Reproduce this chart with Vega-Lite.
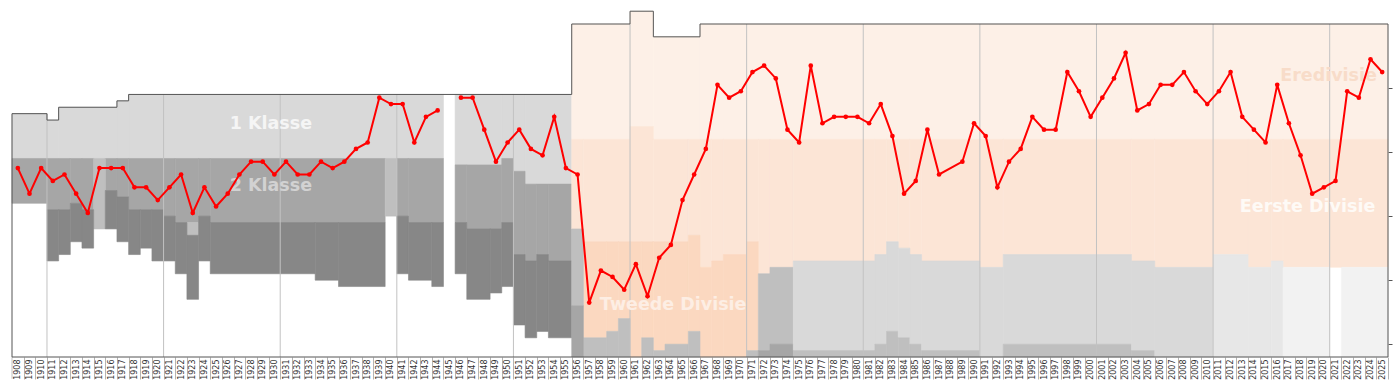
{
"$schema": "https://vega.github.io/schema/vega-lite/v6.json",
"width": 1376, "height": 357,
"autosize": {"type": "none"},
"padding": {"left": 12, "top": 0, "right": 12, "bottom": 30},
"background": "white",
"config": {
"view": {"stroke": null}, "font": "DejaVu Sans",
"axisX": {"labelAngle": 270, "labelFontSize": 8, "labelFont": "DejaVu Sans", "labelColor": "#333333",
"tickSize": 22, "tickColor": "#b4b4b4", "tickOffset": 5.83, "labelOffset": -5.83, "labelPadding": -20,
"domain": false, "grid": false, "labelOverlap": false, "labelFlush": false, "labelBound": false, "labelAlign": "right", "labelBaseline": "middle"},
"axisY": {"labels": false, "ticks": true, "tickSize": 4, "tickColor": "#555555", "domain": false, "grid": false}
},
"resolve": {"scale": {"color": "independent", "stroke": "independent"}},
"encoding": {
"x": {"field": "x0", "type": "quantitative",
"scale": {"domain": [1907.5, 2025.5], "nice": false, "zero": false},
"axis": {"values": [1908,1909,1910,1911,1912,1913,1914,1915,1916,1917,1918,1919,1920,1921,1922,1923,1924,1925,1926,1927,1928,1929,1930,1931,1932,1933,1934,1935,1936,1937,1938,1939,1940,1941,1942,1943,1944,1945,1946,1947,1948,1949,1950,1951,1952,1953,1954,1955,1956,1957,1958,1959,1960,1961,1962,1963,1964,1965,1966,1967,1968,1969,1970,1971,1972,1973,1974,1975,1976,1977,1978,1979,1980,1981,1982,1983,1984,1985,1986,1987,1988,1989,1990,1991,1992,1993,1994,1995,1996,1997,1998,1999,2000,2001,2002,2003,2004,2005,2006,2007,2008,2009,2010,2011,2012,2013,2014,2015,2016,2017,2018,2019,2020,2021,2022,2023,2024,2025],
"format": "d", "labelAngle": 270, "labelFontSize": 8, "labelColor": "#333333",
"tickSize": 22, "tickColor": "#b4b4b4", "tickOffset": 5.83, "labelOffset": -5.83, "labelPadding": -20,
"domain": false, "grid": false, "title": null, "labelOverlap": false, "labelFlush": false, "labelBound": false}},
"y": {"field": "y0", "type": "quantitative",
"scale": {"domain": [-3.25, 52.5], "reverse": true, "nice": false, "zero": false},
"axis": {"orient": "right", "values": [10.5, 20.5, 30.5, 40.5, 50.5], "labels": false, "ticks": true, "tickSize": 4, "tickColor": "#555555", "domain": false, "grid": false, "title": null}}
},
"layer": [
{
"data": {"values": [
{"x0":1907.5,"x1":1910.5,"y0":14.5,"y1":21.5,"c":"k1"},
{"x0":1910.5,"x1":1911.5,"y0":15.5,"y1":21.5,"c":"k1"},
{"x0":1911.5,"x1":1916.5,"y0":13.5,"y1":21.5,"c":"k1"},
{"x0":1916.5,"x1":1917.5,"y0":12.5,"y1":21.5,"c":"k1"},
{"x0":1917.5,"x1":1944.5,"y0":11.5,"y1":21.5,"c":"k1"},
{"x0":1945.5,"x1":1949.5,"y0":11.5,"y1":22.5,"c":"k1"},
{"x0":1949.5,"x1":1950.5,"y0":11.5,"y1":21.5,"c":"k1"},
{"x0":1950.5,"x1":1951.5,"y0":11.5,"y1":23.5,"c":"k1"},
{"x0":1951.5,"x1":1955.5,"y0":11.5,"y1":25.5,"c":"k1"},
{"x0":1907.5,"x1":1910.5,"y0":21.5,"y1":28.5,"c":"k2"},
{"x0":1910.5,"x1":1912.5,"y0":21.5,"y1":29.5,"c":"k2"},
{"x0":1912.5,"x1":1913.5,"y0":21.5,"y1":28.5,"c":"k2"},
{"x0":1913.5,"x1":1914.5,"y0":21.5,"y1":29.5,"c":"k2"},
{"x0":1915.5,"x1":1916.5,"y0":21.5,"y1":26.5,"c":"k2"},
{"x0":1916.5,"x1":1917.5,"y0":21.5,"y1":27.5,"c":"k2"},
{"x0":1917.5,"x1":1920.5,"y0":21.5,"y1":29.5,"c":"k2"},
{"x0":1920.5,"x1":1921.5,"y0":21.5,"y1":30.5,"c":"k2"},
{"x0":1921.5,"x1":1923.5,"y0":21.5,"y1":31.5,"c":"k2"},
{"x0":1923.5,"x1":1924.5,"y0":21.5,"y1":30.5,"c":"k2"},
{"x0":1924.5,"x1":1939.5,"y0":21.5,"y1":31.5,"c":"k2"},
{"x0":1940.5,"x1":1941.5,"y0":21.5,"y1":30.5,"c":"k2"},
{"x0":1941.5,"x1":1944.5,"y0":21.5,"y1":31.5,"c":"k2"},
{"x0":1945.5,"x1":1946.5,"y0":22.5,"y1":31.5,"c":"k2"},
{"x0":1946.5,"x1":1949.5,"y0":22.5,"y1":32.5,"c":"k2"},
{"x0":1949.5,"x1":1950.5,"y0":21.5,"y1":31.5,"c":"k2"},
{"x0":1950.5,"x1":1951.5,"y0":23.5,"y1":36.5,"c":"k2"},
{"x0":1951.5,"x1":1952.5,"y0":25.5,"y1":37.5,"c":"k2"},
{"x0":1952.5,"x1":1953.5,"y0":25.5,"y1":36.5,"c":"k2"},
{"x0":1953.5,"x1":1955.5,"y0":25.5,"y1":37.5,"c":"k2"},
{"x0":1914.5,"x1":1915.5,"y0":21.5,"y1":32.5,"c":"kx"},
{"x0":1922.5,"x1":1923.5,"y0":31.5,"y1":33.5,"c":"kx"},
{"x0":1939.5,"x1":1940.5,"y0":21.5,"y1":30.5,"c":"kx"},
{"x0":1910.5,"x1":1911.5,"y0":29.5,"y1":37.5,"c":"k3"},
{"x0":1911.5,"x1":1912.5,"y0":29.5,"y1":36.5,"c":"k3"},
{"x0":1912.5,"x1":1913.5,"y0":28.5,"y1":34.5,"c":"k3"},
{"x0":1913.5,"x1":1914.5,"y0":29.5,"y1":35.5,"c":"k3"},
{"x0":1915.5,"x1":1916.5,"y0":26.5,"y1":32.5,"c":"k3"},
{"x0":1916.5,"x1":1917.5,"y0":27.5,"y1":34.5,"c":"k3"},
{"x0":1917.5,"x1":1918.5,"y0":29.5,"y1":36.5,"c":"k3"},
{"x0":1918.5,"x1":1919.5,"y0":29.5,"y1":35.5,"c":"k3"},
{"x0":1919.5,"x1":1920.5,"y0":29.5,"y1":37.5,"c":"k3"},
{"x0":1920.5,"x1":1921.5,"y0":30.5,"y1":37.5,"c":"k3"},
{"x0":1921.5,"x1":1922.5,"y0":31.5,"y1":39.5,"c":"k3"},
{"x0":1922.5,"x1":1923.5,"y0":33.5,"y1":43.5,"c":"k3"},
{"x0":1923.5,"x1":1924.5,"y0":30.5,"y1":37.5,"c":"k3"},
{"x0":1924.5,"x1":1933.5,"y0":31.5,"y1":39.5,"c":"k3"},
{"x0":1933.5,"x1":1935.5,"y0":31.5,"y1":40.5,"c":"k3"},
{"x0":1935.5,"x1":1939.5,"y0":31.5,"y1":41.5,"c":"k3"},
{"x0":1940.5,"x1":1941.5,"y0":30.5,"y1":39.5,"c":"k3"},
{"x0":1941.5,"x1":1943.5,"y0":31.5,"y1":40.5,"c":"k3"},
{"x0":1943.5,"x1":1944.5,"y0":31.5,"y1":41.5,"c":"k3"},
{"x0":1945.5,"x1":1946.5,"y0":31.5,"y1":39.5,"c":"k3"},
{"x0":1946.5,"x1":1948.5,"y0":32.5,"y1":43.5,"c":"k3"},
{"x0":1948.5,"x1":1949.5,"y0":32.5,"y1":42.5,"c":"k3"},
{"x0":1949.5,"x1":1950.5,"y0":31.5,"y1":41.5,"c":"k3"},
{"x0":1950.5,"x1":1951.5,"y0":36.5,"y1":47.5,"c":"k3"},
{"x0":1951.5,"x1":1952.5,"y0":37.5,"y1":49.5,"c":"k3"},
{"x0":1952.5,"x1":1953.5,"y0":36.5,"y1":48.5,"c":"k3"},
{"x0":1953.5,"x1":1955.5,"y0":37.5,"y1":49.5,"c":"k3"},
{"x0":1955.5,"x1":1960.5,"y0":0.5,"y1":18.5,"c":"ere"},
{"x0":1960.5,"x1":1962.5,"y0":-1.5,"y1":16.5,"c":"ere"},
{"x0":1962.5,"x1":1966.5,"y0":2.5,"y1":18.5,"c":"ere"},
{"x0":1966.5,"x1":2025.5,"y0":0.5,"y1":18.5,"c":"ere"},
{"x0":1955.5,"x1":1956.5,"y0":18.5,"y1":32.5,"c":"eer"},
{"x0":1956.5,"x1":1960.5,"y0":18.5,"y1":34.5,"c":"eer"},
{"x0":1960.5,"x1":1962.5,"y0":16.5,"y1":34.5,"c":"eer"},
{"x0":1962.5,"x1":1965.5,"y0":18.5,"y1":34.5,"c":"eer"},
{"x0":1965.5,"x1":1966.5,"y0":18.5,"y1":33.5,"c":"eer"},
{"x0":1966.5,"x1":1967.5,"y0":18.5,"y1":38.5,"c":"eer"},
{"x0":1967.5,"x1":1968.5,"y0":18.5,"y1":37.5,"c":"eer"},
{"x0":1968.5,"x1":1970.5,"y0":18.5,"y1":36.5,"c":"eer"},
{"x0":1970.5,"x1":1971.5,"y0":18.5,"y1":34.5,"c":"eer"},
{"x0":1971.5,"x1":1972.5,"y0":18.5,"y1":39.5,"c":"eer"},
{"x0":1972.5,"x1":1974.5,"y0":18.5,"y1":38.5,"c":"eer"},
{"x0":1974.5,"x1":1981.5,"y0":18.5,"y1":37.5,"c":"eer"},
{"x0":1981.5,"x1":1982.5,"y0":18.5,"y1":36.5,"c":"eer"},
{"x0":1982.5,"x1":1983.5,"y0":18.5,"y1":34.5,"c":"eer"},
{"x0":1983.5,"x1":1984.5,"y0":18.5,"y1":35.5,"c":"eer"},
{"x0":1984.5,"x1":1985.5,"y0":18.5,"y1":36.5,"c":"eer"},
{"x0":1985.5,"x1":1990.5,"y0":18.5,"y1":37.5,"c":"eer"},
{"x0":1990.5,"x1":1992.5,"y0":18.5,"y1":38.5,"c":"eer"},
{"x0":1992.5,"x1":2003.5,"y0":18.5,"y1":36.5,"c":"eer"},
{"x0":2003.5,"x1":2005.5,"y0":18.5,"y1":37.5,"c":"eer"},
{"x0":2005.5,"x1":2010.5,"y0":18.5,"y1":38.5,"c":"eer"},
{"x0":2010.5,"x1":2013.5,"y0":18.5,"y1":36.5,"c":"eer"},
{"x0":2013.5,"x1":2015.5,"y0":18.5,"y1":38.5,"c":"eer"},
{"x0":2015.5,"x1":2016.5,"y0":18.5,"y1":37.5,"c":"eer"},
{"x0":2016.5,"x1":2025.5,"y0":18.5,"y1":38.5,"c":"eer"},
{"x0":1956.5,"x1":1958.5,"y0":34.5,"y1":49.5,"c":"twe"},
{"x0":1958.5,"x1":1959.5,"y0":34.5,"y1":48.5,"c":"twe"},
{"x0":1959.5,"x1":1960.5,"y0":34.5,"y1":46.5,"c":"twe"},
{"x0":1960.5,"x1":1961.5,"y0":34.5,"y1":52.5,"c":"twe"},
{"x0":1961.5,"x1":1962.5,"y0":34.5,"y1":49.5,"c":"twe"},
{"x0":1962.5,"x1":1963.5,"y0":34.5,"y1":51.5,"c":"twe"},
{"x0":1963.5,"x1":1965.5,"y0":34.5,"y1":50.5,"c":"twe"},
{"x0":1965.5,"x1":1966.5,"y0":33.5,"y1":48.5,"c":"twe"},
{"x0":1966.5,"x1":1967.5,"y0":38.5,"y1":52.5,"c":"twe"},
{"x0":1967.5,"x1":1968.5,"y0":37.5,"y1":52.5,"c":"twe"},
{"x0":1968.5,"x1":1970.5,"y0":36.5,"y1":52.5,"c":"twe"},
{"x0":1970.5,"x1":1971.5,"y0":34.5,"y1":51.5,"c":"twe"},
{"x0":1956.5,"x1":1958.5,"y0":49.5,"y1":52.5,"c":"kx"},
{"x0":1958.5,"x1":1959.5,"y0":48.5,"y1":52.5,"c":"kx"},
{"x0":1959.5,"x1":1960.5,"y0":46.5,"y1":52.5,"c":"kx"},
{"x0":1961.5,"x1":1962.5,"y0":49.5,"y1":52.5,"c":"kx"},
{"x0":1962.5,"x1":1963.5,"y0":51.5,"y1":52.5,"c":"kx"},
{"x0":1963.5,"x1":1965.5,"y0":50.5,"y1":52.5,"c":"kx"},
{"x0":1965.5,"x1":1966.5,"y0":48.5,"y1":52.5,"c":"kx"},
{"x0":1970.5,"x1":1971.5,"y0":51.5,"y1":52.5,"c":"kx"},
{"x0":1955.5,"x1":1956.5,"y0":32.5,"y1":44.5,"c":"kx"},
{"x0":1955.5,"x1":1956.5,"y0":44.5,"y1":52.5,"c":"k2"},
{"x0":1971.5,"x1":1972.5,"y0":39.5,"y1":51.5,"c":"kx"},
{"x0":1971.5,"x1":1972.5,"y0":51.5,"y1":52.5,"c":"k2"},
{"x0":1972.5,"x1":1974.5,"y0":38.5,"y1":50.5,"c":"kx"},
{"x0":1972.5,"x1":1974.5,"y0":50.5,"y1":52.5,"c":"k2"},
{"x0":1974.5,"x1":1981.5,"y0":37.5,"y1":51.5,"c":"am1"},
{"x0":1974.5,"x1":1981.5,"y0":51.5,"y1":52.5,"c":"kx"},
{"x0":1981.5,"x1":1982.5,"y0":36.5,"y1":50.5,"c":"am1"},
{"x0":1981.5,"x1":1982.5,"y0":50.5,"y1":52.5,"c":"kx"},
{"x0":1982.5,"x1":1983.5,"y0":34.5,"y1":48.5,"c":"am1"},
{"x0":1982.5,"x1":1983.5,"y0":48.5,"y1":52.5,"c":"kx"},
{"x0":1983.5,"x1":1984.5,"y0":35.5,"y1":49.5,"c":"am1"},
{"x0":1983.5,"x1":1984.5,"y0":49.5,"y1":52.5,"c":"kx"},
{"x0":1984.5,"x1":1985.5,"y0":36.5,"y1":50.5,"c":"am1"},
{"x0":1984.5,"x1":1985.5,"y0":50.5,"y1":52.5,"c":"kx"},
{"x0":1985.5,"x1":1990.5,"y0":37.5,"y1":51.5,"c":"am1"},
{"x0":1985.5,"x1":1990.5,"y0":51.5,"y1":52.5,"c":"kx"},
{"x0":1990.5,"x1":1992.5,"y0":38.5,"y1":52.5,"c":"am1"},
{"x0":1992.5,"x1":2003.5,"y0":36.5,"y1":50.5,"c":"am1"},
{"x0":1992.5,"x1":2003.5,"y0":50.5,"y1":52.5,"c":"kx"},
{"x0":2003.5,"x1":2005.5,"y0":37.5,"y1":51.5,"c":"am1"},
{"x0":2003.5,"x1":2005.5,"y0":51.5,"y1":52.5,"c":"kx"},
{"x0":2005.5,"x1":2010.5,"y0":38.5,"y1":52.5,"c":"am1"},
{"x0":2010.5,"x1":2013.5,"y0":36.5,"y1":52.5,"c":"am2"},
{"x0":2013.5,"x1":2015.5,"y0":38.5,"y1":52.5,"c":"am2"},
{"x0":2015.5,"x1":2016.5,"y0":37.5,"y1":52.5,"c":"am2"},
{"x0":2016.5,"x1":2020.5,"y0":38.5,"y1":52.5,"c":"am3"},
{"x0":2021.5,"x1":2025.5,"y0":38.5,"y1":52.5,"c":"am3"}
]},
"mark": {"type": "rect", "strokeWidth": 0.6},
"encoding": {
"x2": {"field": "x1"},
"y2": {"field": "y1"},
"color": {"field": "c", "type": "nominal", "legend": null,
"scale": {"domain": ["k1","k2","k3","kx","ere","eer","twe","am1","am2","am3"],
"range": ["#d9d9d9","#a6a6a6","#878787","#bfbfbf","#fdf0e7","#fce5d6","#fbd8c0","#d9d9d9","#e7e7e7","#f2f2f2"]}},
"stroke": {"field": "c", "type": "nominal", "legend": null,
"scale": {"domain": ["k1","k2","k3","kx","ere","eer","twe","am1","am2","am3"],
"range": ["#d9d9d9","#a6a6a6","#878787","#bfbfbf","#fdf0e7","#fce5d6","#fbd8c0","#d9d9d9","#e7e7e7","#f2f2f2"]}}
}
},
{
"data": {"values": [
{"x0":1910.5,"y0":14.5,"y1":52.5},{"x0":1920.5,"y0":11.5,"y1":52.5},{"x0":1930.5,"y0":11.5,"y1":52.5},
{"x0":1940.5,"y0":11.5,"y1":52.5},{"x0":1950.5,"y0":11.5,"y1":52.5},{"x0":1960.5,"y0":0.5,"y1":52.5},
{"x0":1970.5,"y0":0.5,"y1":52.5},{"x0":1980.5,"y0":0.5,"y1":52.5},{"x0":1990.5,"y0":0.5,"y1":52.5},
{"x0":2000.5,"y0":0.5,"y1":52.5},{"x0":2010.5,"y0":0.5,"y1":52.5},{"x0":2020.5,"y0":0.5,"y1":52.5},
{"x0":1907.5,"y0":52.5,"y1":55.9}
]},
"mark": {"type": "rule", "color": "#c2c2c2", "strokeWidth": 1},
"encoding": {
"y2": {"field": "y1"}
}
},
{
"data": {"values": [
{"x0":1907.5,"x1":1910.5,"y0":14.5,"y1":14.5},
{"x0":1910.5,"x1":1910.5,"y0":14.5,"y1":15.5},
{"x0":1910.5,"x1":1911.5,"y0":15.5,"y1":15.5},
{"x0":1911.5,"x1":1911.5,"y0":15.5,"y1":13.5},
{"x0":1911.5,"x1":1916.5,"y0":13.5,"y1":13.5},
{"x0":1916.5,"x1":1916.5,"y0":13.5,"y1":12.5},
{"x0":1916.5,"x1":1917.5,"y0":12.5,"y1":12.5},
{"x0":1917.5,"x1":1917.5,"y0":12.5,"y1":11.5},
{"x0":1917.5,"x1":1955.5,"y0":11.5,"y1":11.5},
{"x0":1955.5,"x1":1955.5,"y0":11.5,"y1":0.5},
{"x0":1955.5,"x1":1960.5,"y0":0.5,"y1":0.5},
{"x0":1960.5,"x1":1960.5,"y0":0.5,"y1":-1.5},
{"x0":1960.5,"x1":1962.5,"y0":-1.5,"y1":-1.5},
{"x0":1962.5,"x1":1962.5,"y0":-1.5,"y1":2.5},
{"x0":1962.5,"x1":1966.5,"y0":2.5,"y1":2.5},
{"x0":1966.5,"x1":1966.5,"y0":2.5,"y1":0.5},
{"x0":1966.5,"x1":2025.5,"y0":0.5,"y1":0.5},
{"x0":2025.5,"x1":2025.5,"y0":0.5,"y1":52.5},
{"x0":1907.5,"x1":2025.5,"y0":52.5,"y1":52.5},
{"x0":1907.5,"x1":1907.5,"y0":14.5,"y1":52.5}
]},
"mark": {"type": "rule", "color": "#555555", "strokeWidth": 1},
"encoding": {
"x2": {"field": "x1"},
"y2": {"field": "y1"}
}
},
{
"data": {"values": [
{"label":"1 Klasse","x0":1929.7,"y0":16.1},
{"label":"2 Klasse","x0":1929.7,"y0":25.8},
{"label":"Tweede Divisie","x0":1964.2,"y0":44.4},
{"label":"Eerste Divisie","x0":2018.6,"y0":29.0},
{"label":"Eredivisie","x0":2020.4,"y0":8.6}
]},
"mark": {"type": "text", "font": "DejaVu Sans", "fontWeight": "bold", "fontSize": 17.5, "align": "center", "baseline": "middle"},
"encoding": {
"text": {"field": "label"},
"color": {"field": "label", "type": "nominal", "legend": null,
"scale": {"domain": ["1 Klasse","2 Klasse","Tweede Divisie","Eerste Divisie","Eredivisie"],
"range": ["#f5f5f5","#d2d2d2","#fdeee4","#fefaf6","#f8dcc9"]}}
}
},
{
"data": {"values": [
{"x0":1908,"y0":23,"era":"a"},{"x0":1909,"y0":27,"era":"a"},{"x0":1910,"y0":23,"era":"a"},{"x0":1911,"y0":25,"era":"a"},
{"x0":1912,"y0":24,"era":"a"},{"x0":1913,"y0":27,"era":"a"},{"x0":1914,"y0":30,"era":"a"},{"x0":1915,"y0":23,"era":"a"},
{"x0":1916,"y0":23,"era":"a"},{"x0":1917,"y0":23,"era":"a"},{"x0":1918,"y0":26,"era":"a"},{"x0":1919,"y0":26,"era":"a"},
{"x0":1920,"y0":28,"era":"a"},{"x0":1921,"y0":26,"era":"a"},{"x0":1922,"y0":24,"era":"a"},{"x0":1923,"y0":30,"era":"a"},
{"x0":1924,"y0":26,"era":"a"},{"x0":1925,"y0":29,"era":"a"},{"x0":1926,"y0":27,"era":"a"},{"x0":1927,"y0":24,"era":"a"},
{"x0":1928,"y0":22,"era":"a"},{"x0":1929,"y0":22,"era":"a"},{"x0":1930,"y0":24,"era":"a"},{"x0":1931,"y0":22,"era":"a"},
{"x0":1932,"y0":24,"era":"a"},{"x0":1933,"y0":24,"era":"a"},{"x0":1934,"y0":22,"era":"a"},{"x0":1935,"y0":23,"era":"a"},
{"x0":1936,"y0":22,"era":"a"},{"x0":1937,"y0":20,"era":"a"},{"x0":1938,"y0":19,"era":"a"},{"x0":1939,"y0":12,"era":"a"},
{"x0":1940,"y0":13,"era":"a"},{"x0":1941,"y0":13,"era":"a"},{"x0":1942,"y0":19,"era":"a"},{"x0":1943,"y0":15,"era":"a"},
{"x0":1944,"y0":14,"era":"a"},
{"x0":1946,"y0":12,"era":"b"},{"x0":1947,"y0":12,"era":"b"},{"x0":1948,"y0":17,"era":"b"},{"x0":1949,"y0":22,"era":"b"},
{"x0":1950,"y0":19,"era":"b"},{"x0":1951,"y0":17,"era":"b"},{"x0":1952,"y0":20,"era":"b"},{"x0":1953,"y0":21,"era":"b"},
{"x0":1954,"y0":15,"era":"b"},{"x0":1955,"y0":23,"era":"b"},{"x0":1956,"y0":24,"era":"b"},{"x0":1957,"y0":44,"era":"b"},
{"x0":1958,"y0":39,"era":"b"},{"x0":1959,"y0":40,"era":"b"},{"x0":1960,"y0":42,"era":"b"},{"x0":1961,"y0":38,"era":"b"},
{"x0":1962,"y0":43,"era":"b"},{"x0":1963,"y0":37,"era":"b"},{"x0":1964,"y0":35,"era":"b"},{"x0":1965,"y0":28,"era":"b"},
{"x0":1966,"y0":24,"era":"b"},{"x0":1967,"y0":20,"era":"b"},{"x0":1968,"y0":10,"era":"b"},{"x0":1969,"y0":12,"era":"b"},
{"x0":1970,"y0":11,"era":"b"},{"x0":1971,"y0":8,"era":"b"},{"x0":1972,"y0":7,"era":"b"},{"x0":1973,"y0":9,"era":"b"},
{"x0":1974,"y0":17,"era":"b"},{"x0":1975,"y0":19,"era":"b"},{"x0":1976,"y0":7,"era":"b"},{"x0":1977,"y0":16,"era":"b"},
{"x0":1978,"y0":15,"era":"b"},{"x0":1979,"y0":15,"era":"b"},{"x0":1980,"y0":15,"era":"b"},{"x0":1981,"y0":16,"era":"b"},
{"x0":1982,"y0":13,"era":"b"},{"x0":1983,"y0":18,"era":"b"},{"x0":1984,"y0":27,"era":"b"},{"x0":1985,"y0":25,"era":"b"},
{"x0":1986,"y0":17,"era":"b"},{"x0":1987,"y0":24,"era":"b"},{"x0":1989,"y0":22,"era":"b"},{"x0":1990,"y0":16,"era":"b"},
{"x0":1991,"y0":18,"era":"b"},{"x0":1992,"y0":26,"era":"b"},{"x0":1993,"y0":22,"era":"b"},{"x0":1994,"y0":20,"era":"b"},
{"x0":1995,"y0":15,"era":"b"},{"x0":1996,"y0":17,"era":"b"},{"x0":1997,"y0":17,"era":"b"},{"x0":1998,"y0":8,"era":"b"},
{"x0":1999,"y0":11,"era":"b"},{"x0":2000,"y0":15,"era":"b"},{"x0":2001,"y0":12,"era":"b"},{"x0":2002,"y0":9,"era":"b"},
{"x0":2003,"y0":5,"era":"b"},{"x0":2004,"y0":14,"era":"b"},{"x0":2005,"y0":13,"era":"b"},{"x0":2006,"y0":10,"era":"b"},
{"x0":2007,"y0":10,"era":"b"},{"x0":2008,"y0":8,"era":"b"},{"x0":2009,"y0":11,"era":"b"},{"x0":2010,"y0":13,"era":"b"},
{"x0":2011,"y0":11,"era":"b"},{"x0":2012,"y0":8,"era":"b"},{"x0":2013,"y0":15,"era":"b"},{"x0":2014,"y0":17,"era":"b"},
{"x0":2015,"y0":19,"era":"b"},{"x0":2016,"y0":10,"era":"b"},{"x0":2017,"y0":16,"era":"b"},{"x0":2018,"y0":21,"era":"b"},
{"x0":2019,"y0":27,"era":"b"},{"x0":2020,"y0":26,"era":"b"},{"x0":2021,"y0":25,"era":"b"},{"x0":2022,"y0":11,"era":"b"},
{"x0":2023,"y0":12,"era":"b"},{"x0":2024,"y0":6,"era":"b"},{"x0":2025,"y0":8,"era":"b"}
]},
"mark": {"type": "line", "color": "#ff0000", "strokeWidth": 2, "point": {"filled": true, "size": 22, "color": "#ff0000"}},
"encoding": {
"detail": {"field": "era", "type": "nominal"}
}
}
]
}
